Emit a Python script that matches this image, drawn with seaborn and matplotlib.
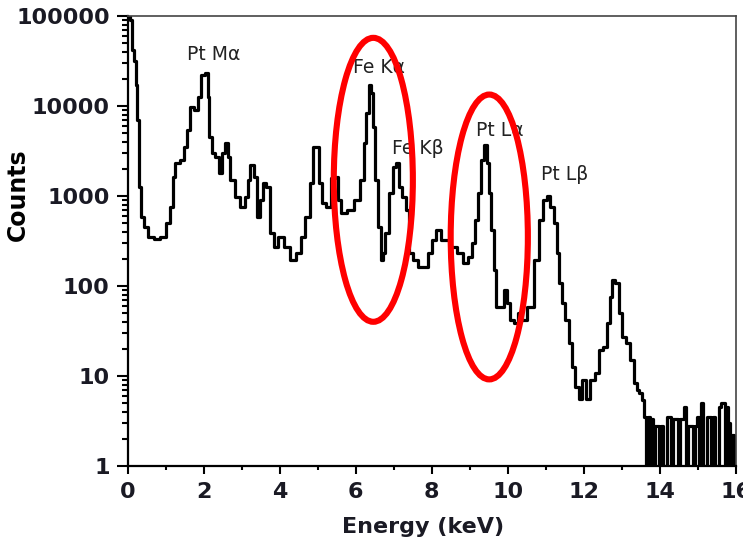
import numpy as np
import matplotlib
matplotlib.use('Agg')
import matplotlib.pyplot as plt
import seaborn as sns
from matplotlib.patches import Ellipse
from matplotlib.ticker import MultipleLocator, LogLocator, NullFormatter, FuncFormatter

# EDS spectrum (energy in keV, counts)
energy = [0.05, 0.09, 0.11, 0.14, 0.19, 0.24, 0.27, 0.32, 0.38, 0.46, 0.59, 0.77, 0.93,
          1.06, 1.17, 1.19, 1.30, 1.43, 1.51, 1.59, 1.69, 1.82, 1.90, 1.98, 2.09, 2.11,
          2.17, 2.24, 2.35, 2.43, 2.51, 2.61, 2.64, 2.74, 2.88, 3.01, 3.14, 3.17, 3.27,
          3.35, 3.43, 3.53, 3.61, 3.69, 3.80, 3.88, 4.01, 4.19, 4.35, 4.48, 4.61, 4.74,
          4.85, 4.90, 4.98, 5.06, 5.14, 5.27, 5.40, 5.51, 5.53, 5.67, 5.85, 6.03, 6.17,
          6.24, 6.30, 6.38, 6.43, 6.46, 6.56, 6.61, 6.69, 6.72, 6.82, 6.90, 7.03, 7.09,
          7.17, 7.24, 7.38, 7.43, 7.56, 7.69, 7.82, 7.96, 8.03, 8.17, 8.30, 8.40, 8.56,
          8.74, 8.88, 9.01, 9.09, 9.20, 9.25, 9.33, 9.40, 9.48, 9.53, 9.59, 9.66, 9.72,
          9.85, 9.93, 10.01, 10.11, 10.19, 10.32, 10.40, 10.59, 10.77, 10.85, 10.98,
          11.06, 11.17, 11.24, 11.32, 11.37, 11.45, 11.56, 11.64, 11.72, 11.82, 11.90,
          11.98, 12.11, 12.22, 12.35, 12.43, 12.56, 12.64, 12.72, 12.77, 12.88, 12.96,
          13.03, 13.16, 13.27, 13.35, 13.42, 13.48, 13.55, 13.61, 13.66, 13.70, 13.76,
          13.80, 13.84, 13.90, 13.95, 14.00, 14.05, 14.10, 14.16, 14.22, 14.27, 14.33,
          14.38, 14.44, 14.50, 14.54, 14.60, 14.67, 14.72, 14.77, 14.83, 14.89, 14.95,
          15.01, 15.06, 15.11, 15.16, 15.21, 15.27, 15.32, 15.37, 15.43, 15.49, 15.54,
          15.59, 15.64, 15.69, 15.74, 15.77, 15.82, 15.86, 15.92, 15.97]
counts = [300000, 90000, 69000, 42000, 32000, 17000, 6950, 1260, 588, 455, 350, 330, 350,
          500, 755, 1620, 2320, 2500, 3500, 5400, 9700, 9100, 12600, 22000, 23400, 12600,
          4530, 3000, 2700, 1800, 3000, 3850, 2700, 1500, 980, 755, 980, 1500, 2200,
          1620, 590, 900, 1380, 1260, 390, 270, 350, 270, 195, 230, 350, 590,
          1380, 3500, 3500, 1380, 830, 755, 1580, 1620, 900, 650, 700, 900, 1500,
          3850, 8300, 17000, 14000, 5800, 1500, 455, 195, 230, 390, 1070, 2100, 2300,
          1260, 980, 700, 230, 195, 163, 163, 230, 325, 417, 325, 325, 270,
          230, 180, 210, 300, 540, 1070, 2500, 3700, 2300, 1070, 417, 150, 58,
          58, 90, 65, 42, 39, 50, 42, 58, 195, 540, 900,
          1000, 755, 500, 230, 108, 65, 42, 23, 12.6, 7.5, 5.5,
          9, 5.5, 9, 10.8, 19.5, 21, 39, 75, 117, 108, 50,
          27, 23, 15, 8.4, 7, 6.5, 5.4, 3.5, 1, 3.5, 1,
          3.3, 1, 2.8, 2.8, 1, 2.8, 1, 1, 3.5, 3.5, 1,
          3.3, 3.3, 1, 3.3, 3.3, 4.5, 1, 2.8, 2.8, 1, 2.8,
          3.5, 1, 5, 1, 1, 3.5, 3.5, 1, 3.5, 1, 1,
          4.5, 5, 5, 1, 4.5, 3, 1, 2.2, 1]

peak_labels = ['Pt M\u03b1', 'Fe K\u03b1', 'Fe K\u03b2', 'Pt L\u03b1', 'Pt L\u03b2']
label_energy = [2.25, 6.61, 7.62, 9.80, 11.48]
label_counts = [37000, 26500, 3400, 5400, 1750]

# highlighted peaks: centre energy and width (keV)
circle_centres = [6.46, 9.51]
circle_widths = [2.08, 2.03]
circle_heights = [0.631, 0.633]
circle_y = [0.636, 0.509]

sns.set_theme(style='ticks')
plt.rcParams['font.family'] = ['DejaVu Sans']

fig = plt.figure(figsize=(7.43, 5.41), dpi=100)
ax = fig.add_axes([0.1719, 0.1386, 0.8187, 0.8318])

df = {'Energy': energy, 'Counts': counts}
sns.lineplot(data=df, x='Energy', y='Counts', ax=ax, color='black', lw=2.3,
             drawstyle='steps-mid', estimator=None, sort=False)

ax.set_yscale('log')
ax.set_xlim(0, 16)
ax.set_ylim(1, 100000)

ax.xaxis.set_major_locator(MultipleLocator(2))
ax.xaxis.set_minor_locator(MultipleLocator(1))
ax.yaxis.set_major_locator(LogLocator(base=10, numticks=10))
ax.yaxis.set_minor_locator(LogLocator(base=10, subs=np.arange(2, 10), numticks=20))
ax.yaxis.set_minor_formatter(NullFormatter())
ax.yaxis.set_major_formatter(FuncFormatter(lambda v, p: f'{int(round(v))}'))

ax.tick_params(axis='both', which='both', direction='out', width=1.5, color='black',
               top=False, right=False)
ax.tick_params(axis='y', which='major', length=8, pad=5, labelsize=16)
ax.tick_params(axis='y', which='minor', length=4.3)
ax.tick_params(axis='x', which='major', length=5.8, pad=6, labelsize=16)
ax.tick_params(axis='x', which='minor', length=3)
for lab in ax.get_xticklabels() + ax.get_yticklabels():
    lab.set_fontweight('bold')
    lab.set_color('#1a1a24')

for side in ['left', 'bottom']:
    ax.spines[side].set_linewidth(1.6)
    ax.spines[side].set_color('black')
for side in ['top', 'right']:
    ax.spines[side].set_linewidth(1.2)
    ax.spines[side].set_color('#444444')

ax.set_xlabel('Energy (keV)', fontsize=16, fontweight='bold', color='#1a1a24')
ax.set_ylabel('Counts', fontsize=17, fontweight='bold', color='black')
ax.xaxis.set_label_coords(0.485, -0.113)
ax.yaxis.set_label_coords(-0.161, 0.602)

for lab, xe, yc in zip(peak_labels, label_energy, label_counts):
    ax.text(xe, yc, lab, ha='center', va='center', fontsize=13.5, color='#222222', zorder=3)

for cx, w, h, cy in zip(circle_centres, circle_widths, circle_heights, circle_y):
    ax.add_patch(Ellipse((cx, cy), w, h, transform=ax.get_xaxis_transform(),
                         fill=False, edgecolor='#ff0000', lw=4.4, zorder=5))

fig.savefig('out.png', dpi=100)
